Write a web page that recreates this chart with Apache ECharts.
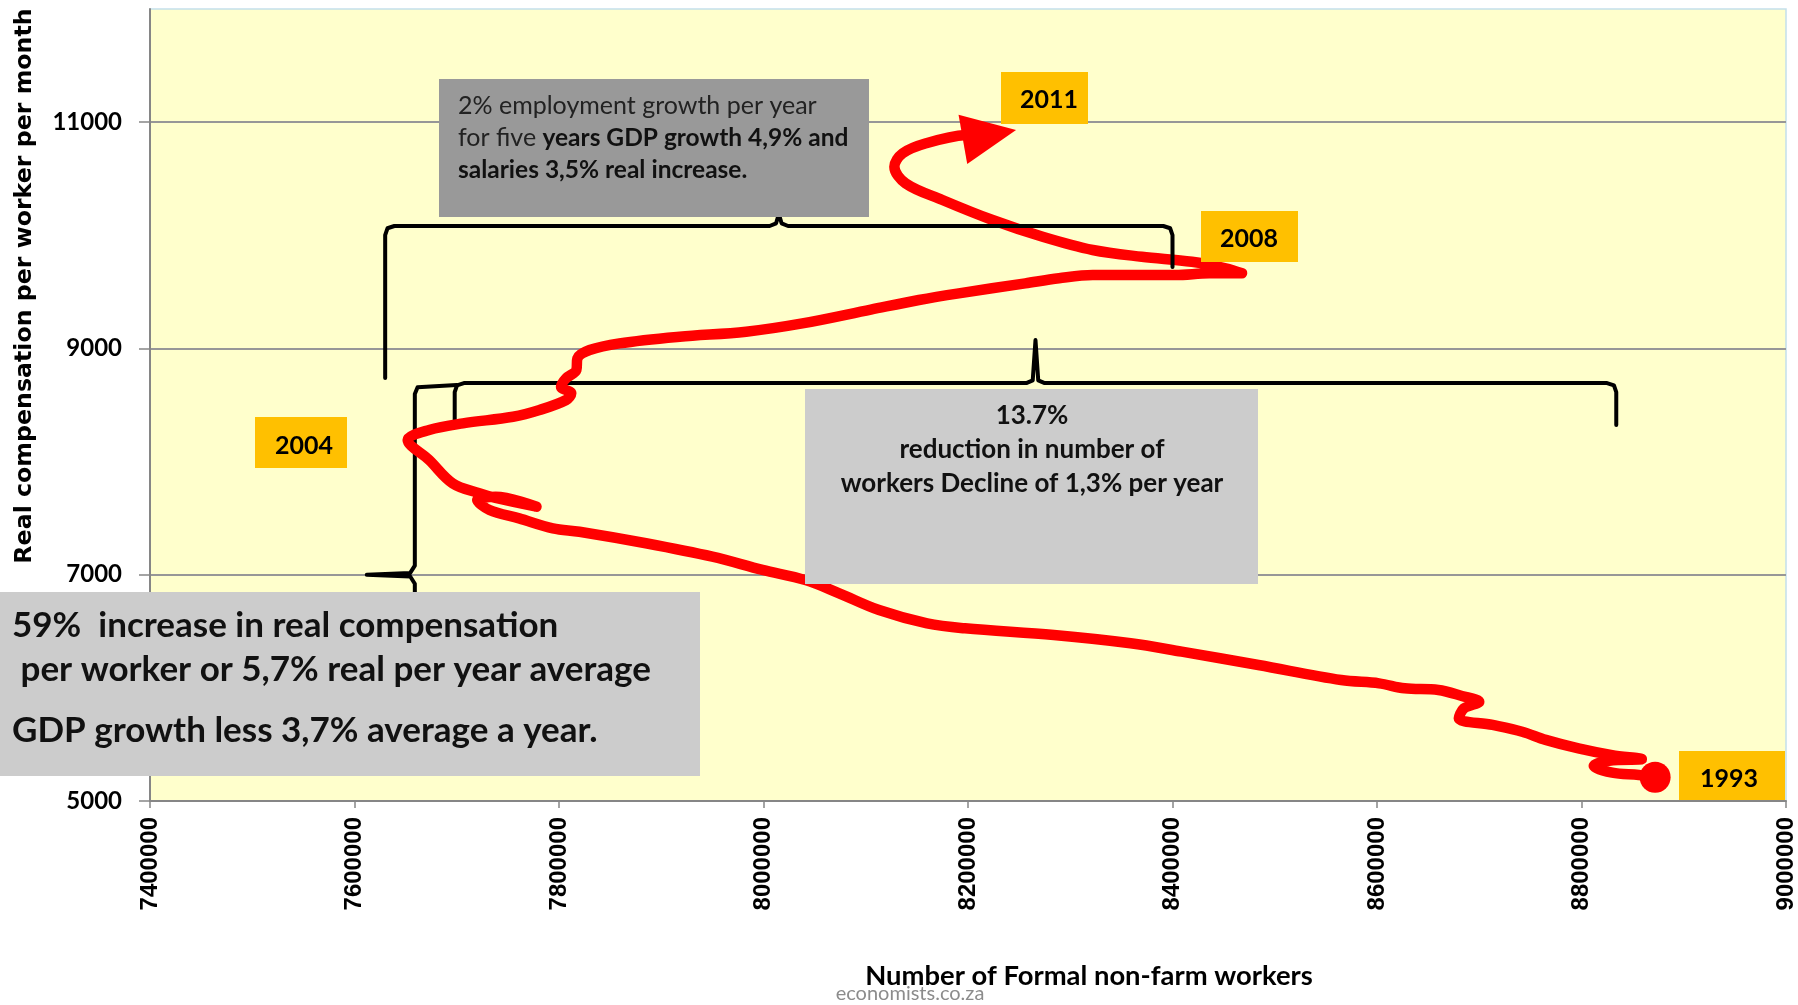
<!DOCTYPE html>
<html>
<head>
<meta charset="utf-8">
<title>Employment vs real compensation</title>
<script src="https://cdn.jsdelivr.net/npm/echarts@6/dist/echarts.min.js"></script>
<style>
  html, body { margin: 0; padding: 0; background: #fff; }
  #chart { width: 1798px; height: 1005px; }
</style>
</head>
<body>
<div id="chart"></div>
<script>
// path of the curve, traced from 1993 (dot) to 2011 (arrow head)
const workers = [
  8872000, 8856000, 8830000, 8812000, 8827000, 8859000, 8830000, 8797000, 8765000, 8742000,
  8713000, 8680000, 8685000, 8700000, 8683000, 8660000, 8627000, 8602000, 8565000, 8484000,
  8409000, 8359000, 8284000, 8197000, 8160000, 8113000, 8074000, 8041000, 7999000, 7950000,
  7885000, 7820000, 7794000, 7761000, 7732000, 7720000, 7738000, 7778000, 7738000, 7722000,
  7696000, 7673000, 7652000, 7673000, 7706000, 7755000, 7781000, 7807000, 7812000, 7802000,
  7807000, 7817000, 7818000, 7830000, 7859000, 7918000, 7983000, 8038000, 8105000, 8152000,
  8191000, 8256000, 8289000, 8322000, 8403000, 8436000, 8468000, 8452000, 8419000, 8370000,
  8322000, 8273000, 8224000, 8175000, 8139000, 8128000, 8136000, 8159000, 8198000, 8221000
];
const pay = [
  5210, 5230, 5250, 5310, 5356, 5370, 5405, 5465, 5540, 5612,
  5672, 5731, 5819, 5878, 5928, 5981, 5996, 6040, 6069, 6202,
  6320, 6394, 6467, 6526, 6570, 6688, 6836, 6953, 7042, 7159,
  7278, 7380, 7410, 7498, 7572, 7660, 7689, 7601, 7678, 7720,
  7808, 8014, 8190, 8279, 8338, 8396, 8456, 8544, 8603, 8662,
  8736, 8809, 8913, 8986, 9045, 9104, 9148, 9221, 9343, 9428,
  9487, 9575, 9620, 9649, 9649, 9664, 9664, 9708, 9766, 9810,
  9870, 9987, 10135, 10312, 10459, 10606, 10724, 10813, 10886, 10890
];

const payTicks = [5000, 7000, 9000, 11000];

// braces (data units)
const braceGrowth = { from: 7630000, to: 8400000, at: 10082, tip: 10188, endFrom: 8738, endTo: 9720 };
const braceDecline = { from: 7698000, to: 8834000, at: 8694, tip: 9074, endFrom: 8323, endTo: 8323 };
const braceComp = { from: 5370, to: 8677, at: 7659000, tip: 7612000, mid: 7000, end: 7700000 };

const CAL = 'Lato, "Open Sans", sans-serif';

function hBrace(b) {
  const m = (b.from + b.to) / 2, rx = 9000, ry = 80;
  return [
    [b.from, b.endFrom], [b.from, b.at - ry], [b.from + rx * 0.25, b.at - ry * 0.25], [b.from + rx, b.at],
    [m - rx, b.at], [m - rx * 0.3, b.at + ry * 0.3], [m, b.tip],
    [m + rx * 0.3, b.at + ry * 0.3], [m + rx, b.at],
    [b.to - rx, b.at], [b.to - rx * 0.25, b.at - ry * 0.25], [b.to, b.at - ry], [b.to, b.endTo]
  ];
}

function vBrace(b) {
  const m = b.mid, rx = 9000, ry = 80;
  return [
    [b.end, b.from], [b.at + rx * 0.3, b.from + ry * 0.25], [b.at, b.from + ry],
    [b.at, m - ry], [b.at - rx * 0.5, m - ry * 0.2], [b.tip, m],
    [b.at - rx * 0.5, m + ry * 0.2], [b.at, m + ry],
    [b.at, b.to - ry], [b.at + rx * 0.3, b.to - ry * 0.25], [b.end, b.to]
  ];
}

const pathData = workers.map((w, i) => [w, pay[i]]);
pathData[0] = { value: pathData[0], symbol: 'circle', symbolSize: 31 };
const last = pathData.length - 1;
pathData[last] = { value: pathData[last], symbol: 'triangle', symbolSize: [50, 54], symbolRotate: -80 };

function braceSeries(name, data, z) {
  return {
    name: name, type: 'line', data: data, symbol: 'none', silent: true, z: z,
    lineStyle: { color: '#000', width: 4, join: 'round', cap: 'round' }
  };
}

function box(x, y, w, h, fill) {
  return { type: 'rect', z: 10, shape: { x: x, y: y, width: w, height: h }, style: { fill: fill } };
}

function label(x, y, text, size, extra) {
  return {
    type: 'text', x: x, y: y, z: 11,
    style: Object.assign({
      text: text, fontFamily: CAL, fontSize: size, fontWeight: 'bold', fill: '#000',
      textAlign: 'center', textVerticalAlign: 'middle'
    }, extra || {})
  };
}

const plain = v => String(v);

const chart = echarts.init(document.getElementById('chart'));
chart.setOption({
  animation: false,
  backgroundColor: '#fff',
  grid: {
    left: 150, right: 11, top: 9, bottom: 204,
    show: true, backgroundColor: '#FFFFCC', borderColor: '#c3dfec', borderWidth: 1.5
  },
  xAxis: {
    type: 'value', min: 7400000, max: 9000000, interval: 200000,
    axisLine: { lineStyle: { color: '#868686', width: 2 } },
    axisTick: { show: true, length: 7, lineStyle: { color: '#868686', width: 1.5 } },
    splitLine: { show: false },
    axisLabel: {
      rotate: 90, margin: 16, color: '#000', formatter: plain,
      fontFamily: '"Liberation Sans", Arial, sans-serif', fontWeight: 'bold', fontSize: 24
    }
  },
  yAxis: {
    type: 'value', min: 5000, max: 12000, interval: 1000,
    axisLine: { show: true, lineStyle: { color: '#868686', width: 2 } },
    axisTick: { show: true, length: 11, customValues: payTicks, lineStyle: { color: '#868686', width: 1.5 } },
    splitLine: { show: true, lineStyle: { color: '#979797', width: 2 } },
    axisLabel: {
      customValues: payTicks, margin: 28, color: '#000', formatter: plain,
      fontFamily: CAL, fontWeight: 'bold', fontSize: 24
    }
  },
  series: [
    braceSeries('brace decline', hBrace(braceDecline), 2),
    braceSeries('brace compensation', vBrace(braceComp), 2),
    {
      name: 'Real compensation vs workers',
      type: 'line',
      data: pathData,
      smooth: 0.35,
      symbol: 'none',
      showSymbol: true,
      silent: true,
      z: 3,
      itemStyle: { color: '#ff0000', borderWidth: 0 },
      lineStyle: { color: '#ff0000', width: 10.5, cap: 'round', join: 'round' }
    },
    braceSeries('brace growth', hBrace(braceGrowth), 4)
  ],
  graphic: [
    {
      type: 'text', x: 25, y: 286, rotation: Math.PI / 2,
      style: {
        text: 'Real compensation per worker per month',
        fontFamily: '"DejaVu Sans", Verdana, sans-serif', fontWeight: 'bold', fontSize: 23.7,
        fill: '#000', textAlign: 'center', textVerticalAlign: 'middle'
      }
    },
    label(1089, 976, 'Number of Formal non-farm workers', 27.4),
    label(910, 994, 'economists.co.za', 20, { fontWeight: 'normal', fill: '#8c8c8c' }),

    box(439, 79, 430, 138, '#999999'),
    {
      type: 'text', x: 458, y: 90, z: 11,
      style: {
        text: '2% employment growth per year\nfor five {b|years GDP growth 4,9% and}\n{b|salaries 3,5% real increase.}',
        fontFamily: CAL, fontSize: 25, fill: '#222', lineHeight: 32,
        textAlign: 'left', textVerticalAlign: 'top',
        rich: { b: { fontFamily: CAL, fontSize: 24.5, fontWeight: 'bold', fill: '#111', lineHeight: 32 } }
      }
    },

    box(805, 389, 453, 195, '#cccccc'),
    label(1032, 399, '13.7%\nreduction in number of\nworkers Decline of 1,3% per year', 26,
      { textVerticalAlign: 'top', lineHeight: 34, fill: '#111' }),

    box(0, 592, 700, 184, '#cccccc'),
    label(12, 604, '59%  increase in real compensation\n per worker or 5,7% real per year average', 35,
      { textAlign: 'left', textVerticalAlign: 'top', lineHeight: 44, fill: '#111' }),
    label(12, 731, 'GDP growth less 3,7% average a year.', 35, { textAlign: 'left', fill: '#111' }),

    box(1001, 72, 87, 52, '#FFC000'),
    label(1049, 100, '2011', 25),
    box(1201, 211, 97, 51, '#FFC000'),
    label(1249, 239, '2008', 25),
    box(255, 417, 92, 51, '#FFC000'),
    label(304, 446, '2004', 25),
    box(1679, 751, 106, 49, '#FFC000'),
    label(1729, 779, '1993', 25)
  ]
});
</script>
</body>
</html>
